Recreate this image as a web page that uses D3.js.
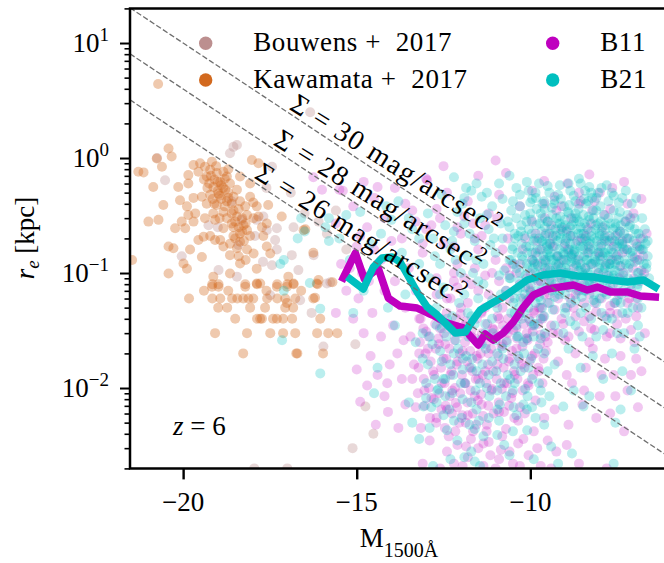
<!DOCTYPE html>
<html>
<head>
<meta charset="utf-8">
<script src="https://cdn.jsdelivr.net/npm/d3@7"></script>
<style>
  body { margin: 0; background: #fff; }
  text { font-family: "Liberation Serif", "Times New Roman", serif; fill: #000; white-space: pre; }
</style>
</head>
<body>
<svg id="chart" width="664" height="563"></svg>
<script>
// ---- axes ----
const xDomain = [-21.53, -6.0];
const yDomain = [0.002, 20];
const xTickValues = [-20, -15, -10];
const xTickLabels = ["\u221220", "\u221215", "\u221210"];
const yTickValues = [10, 1, 0.1, 0.01];
const yTickExponents = ["1", "0", "\u22121", "\u22122"];

// ---- constant surface-brightness guides: log10 r = (mu - M - zp) / 5 ----
const sbLevels = [26, 28, 30];
const sbZeroPoint = 45;
const sbLabelM = [-17.98, -17.43, -16.97];

// ---- Bouwens+2017 sizes [M1500, r_e kpc] ----
const bouwens = [
  [-16.34,2.5],[-18.45,1.3],[-18.65,1.1],[-18.55,1.25],[-20.75,1.0],[-20.52,0.64],[-17.44,0.84],[-20.04,0.14],
  [-19.27,0.26],[-18.31,0.29],[-18.41,0.175],[-17.88,0.29],[-17.69,0.31],[-17.59,0.236],[-17.93,0.21],
  [-17.30,0.245],[-16.82,0.25],[-16.87,0.143],[-16.68,0.106],[-17.30,0.16],[-17.35,0.194],[-16.63,0.058],
  [-15.86,0.081],[-15.96,0.023],[-18.98,0.106],[-17.49,0.064],[-18.45,0.093],[-16.24,0.143],[-15.86,0.22],
  [-17.44,0.117],[-15.04,0.024],[-14.75,0.0069],[-14.52,0.004],[-15.12,0.003],[-17.95,0.002],[-17.0,0.002],
  [-16.5,0.33],[-16.1,0.28],[-15.6,0.35],[-15.3,0.16],[-16.9,0.5],[-17.6,0.55],[-18.6,0.42],[-19.0,0.25],
  [-15.76,0.083],[-16.3,0.045],[-17.7,0.125]
];

// ---- Kawamata+2017 sizes [M1500, r_e kpc] ----
const kawamata = [
  [-20.72,4.4],[-20.42,1.21],[-20.33,1.03],[-20.76,0.99],[-20.61,0.84],[-21.29,0.76],[-21.14,0.75],[-20.86,0.56],
  [-20.09,0.43],[-20.57,0.39],[-19.89,0.38],[-19.85,0.32],[-19.65,0.33],[-19.70,0.28],[-20.04,0.28],[-20.23,0.245],
  [-19.94,0.245],[-21.0,0.28],[-20.71,0.29],[-20.42,0.17],[-20.28,0.164],[-19.80,0.16],[-19.99,0.121],[-19.89,0.109],
  [-20.42,0.099],[-19.46,0.138],[-19.56,0.194],[-19.41,0.207],[-19.08,0.194],[-18.93,0.194],[-19.17,0.076],
  [-18.98,0.076],[-19.13,0.093],[-18.65,0.099],[-18.36,0.121],[-18.21,0.076],[-17.88,0.081],[-17.88,0.109],
  [-17.78,0.081],[-17.49,0.148],[-17.30,0.076],[-17.01,0.076],[-16.82,0.081],[-16.97,0.093],[-17.01,0.055],
  [-16.15,0.081],[-16.53,0.236],[-17.16,0.31],[-17.55,0.39],[-17.98,0.41],[-18.02,0.96],[-17.83,0.90],
  [-19.17,0.93],[-21.47,0.13],
  [-19.70,0.87],[-19.51,0.90],[-19.37,0.84],[-19.22,0.79],[-19.56,0.76],[-19.32,0.69],[-19.03,0.74],[-18.84,0.76],
  [-18.74,0.69],[-18.93,0.62],[-19.13,0.56],[-18.65,0.60],[-18.79,0.53],[-18.45,0.53],[-18.55,0.46],[-18.98,0.49],
  [-19.22,0.48],[-19.46,0.46],[-19.70,0.45],[-19.32,0.40],[-19.03,0.39],[-18.74,0.42],[-18.36,0.42],[-18.21,0.38],
  [-18.55,0.35],[-18.84,0.34],[-19.13,0.33],[-19.37,0.30],[-19.08,0.29],[-18.74,0.30],[-18.45,0.31],[-18.16,0.32],
  [-17.97,0.30],[-18.26,0.26],[-18.55,0.25],[-18.84,0.245],[-18.16,0.236],[-18.36,0.22],[-18.55,0.21],[-18.07,0.21],
  [-18.65,0.18],[-18.36,0.187],[-18.84,0.17],[-18.45,0.164],[-18.16,0.16],[-17.97,0.148],[-18.65,0.143],[-19.22,0.21],
  [-19.85,0.60],[-20.14,0.56],[-19.85,0.71],[-18.36,0.69],[-18.07,0.60],[-18.07,0.46],[-17.88,0.38],[-17.83,0.31],
  [-17.73,0.25],[-17.59,0.27],[-17.69,0.21],[-17.59,0.17],
  [-19.1,0.65],[-18.9,0.58],[-19.0,0.52],[-18.7,0.5],[-19.25,0.6],[-18.8,0.66],[-19.15,0.44],[-18.6,0.4],
  [-18.9,0.44],[-18.5,0.28],[-18.3,0.3],[-18.4,0.25],[-18.2,0.27],
  [-19.2,0.7],[-19.0,0.62],[-18.85,0.55],[-19.3,0.55],[-18.95,0.47],[-18.7,0.45],[-19.1,0.4],[-18.8,0.38],
  [-18.6,0.33],[-18.4,0.36],[-18.3,0.23],[-18.5,0.2],[-18.25,0.19],[-18.6,0.27],[-19.4,0.65],[-19.05,0.85],
  [-18.7,0.8],[-18.95,0.3],[-18.2,0.13],[-18.4,0.14],
  [-19.83,0.06],[-19.16,0.06],[-18.93,0.06],[-18.59,0.06],[-18.44,0.06],[-18.27,0.06],[-17.98,0.06],[-17.58,0.06],
  [-17.29,0.06],[-17.06,0.06],[-16.77,0.06],[-16.25,0.06],[-18.12,0.06],
  [-18.99,0.05],[-18.73,0.05],[-18.07,0.05],[-17.64,0.05],[-17.06,0.05],[-16.83,0.05],
  [-18.5,0.04],[-17.87,0.04],[-17.78,0.04],[-17.73,0.04],[-17.41,0.04],[-17.12,0.04],[-16.86,0.04],[-16.05,0.04],[-17.3,0.04],
  [-19.08,0.03],[-18.16,0.03],[-17.49,0.03],[-17.12,0.03],[-16.77,0.03],[-16.14,0.03],[-15.82,0.03],
  [-18.27,0.02],[-16.74,0.02],[-16.71,0.02],[-15.97,0.02],
  [-19.16,0.08],[-18.98,0.08],[-18.21,0.08],[-17.87,0.08],[-17.29,0.08],[-17.0,0.08],[-16.82,0.08],[-16.13,0.08],
  [-18.7,0.07],[-17.6,0.07],[-16.6,0.07],[-19.4,0.07],
  [-16.48,0.24],[-16.25,0.15],[-16.1,0.087],[-15.7,0.083],[-16.2,0.061],[-15.56,0.03]
];

// ---- B11 simulated galaxies [M1500, r_e kpc] ----
const b11Points = [
  [-10.3,0.12],[-10.15,0.2],[-10.05,0.075],[-9.95,0.28],[-9.85,0.15],[-9.75,0.05],[-9.65,0.1],[-9.55,0.22],
  [-9.45,0.065],[-9.35,0.17],[-9.25,0.35],[-9.15,0.09],[-9.05,0.13],[-8.95,0.24],[-8.85,0.06],[-8.75,0.11],
  [-8.65,0.19],[-8.55,0.42],[-8.45,0.08],[-8.35,0.15],[-8.25,0.27],[-8.15,0.055],[-8.05,0.1],[-7.95,0.18],
  [-7.85,0.32],[-7.75,0.07],[-7.65,0.13],[-7.55,0.21],[-7.45,0.09],[-7.35,0.15],[-7.25,0.28],[-7.15,0.06],
  [-7.05,0.11],[-6.95,0.18],[-6.85,0.085],[-6.75,0.14],[-6.65,0.22],
  [-10.22,0.16],[-10.0,0.1],[-9.8,0.19],[-9.6,0.13],[-9.4,0.26],[-9.2,0.115],[-9.0,0.18],[-8.8,0.145],
  [-8.6,0.07],[-8.4,0.21],[-8.2,0.12],[-8.0,0.14],[-7.8,0.095],[-7.6,0.17],[-7.4,0.115],[-7.2,0.2],
  [-7.0,0.135],[-6.8,0.105],
  [-9.9,0.045],[-9.3,0.048],[-8.7,0.042],[-8.1,0.046],[-7.5,0.044],[-6.9,0.05],[-10.1,0.058],[-9.5,0.055],
  [-8.9,0.075],[-8.3,0.065],[-7.7,0.052],[-7.1,0.07],
  [-9.95,0.13],[-9.85,0.22],[-9.78,0.085],[-9.68,0.16],[-9.58,0.3],[-9.5,0.11],[-9.42,0.18],[-9.32,0.075],
  [-9.22,0.14],[-9.12,0.24],[-9.02,0.1],[-8.92,0.16],[-8.82,0.3],[-8.72,0.085],[-8.62,0.13],[-8.52,0.2],
  [-8.42,0.11],[-8.32,0.17],[-8.22,0.35],[-8.12,0.09],[-8.02,0.15],[-7.92,0.25],[-7.82,0.12],[-7.72,0.19],
  [-7.62,0.08],[-7.52,0.14],[-7.42,0.23],[-7.32,0.1],[-7.22,0.16],[-7.12,0.3],[-7.02,0.09],[-6.92,0.13],
  [-6.82,0.2],[-6.72,0.1],
  [-9.9,0.065],[-9.7,0.05],[-9.45,0.085],[-9.2,0.06],[-8.95,0.05],[-8.7,0.065],[-8.45,0.055],[-8.2,0.075],
  [-7.95,0.06],[-7.7,0.045],[-7.45,0.065],[-7.2,0.055],[-6.95,0.06],
  [-9.6,0.4],[-9.1,0.38],[-8.6,0.5],[-8.15,0.42],[-7.7,0.36],[-7.2,0.4],[-9.35,0.21],[-8.85,0.21],
  [-8.35,0.24],[-7.85,0.21],[-7.35,0.19],[-6.85,0.16],
  [-10.3,0.045],[-9.95,0.035],[-9.65,0.04],[-9.35,0.03],[-9.05,0.036],[-8.75,0.05],[-8.45,0.038],[-8.15,0.032],
  [-7.85,0.042],[-7.55,0.055],[-7.25,0.04],[-6.95,0.042],[-10.1,0.03],[-9.5,0.025],[-8.9,0.028],[-8.3,0.025],
  [-7.7,0.03],[-7.1,0.032],
  [-15.4,0.52],[-15.1,0.38],[-14.8,0.62],[-14.5,0.45],[-14.2,0.3],[-13.9,0.55],[-13.6,0.4],[-13.3,0.28],
  [-13.0,0.66],[-12.7,0.36],[-12.4,0.5],[-12.1,0.25],[-11.8,0.42],[-11.5,0.7],[-11.2,0.33],[-10.9,0.48],
  [-10.7,0.74],[-10.3,0.38],[-9.95,0.52],[-9.6,0.63],[-9.3,0.46],[-8.93,0.6],[-8.6,0.4],[-8.3,0.72],
  [-8.0,0.5],[-7.64,0.55],[-7.3,0.62],[-7.03,0.33],[-6.8,0.44],[-15.6,0.27],[-14.9,0.21],[-14.0,0.19],
  [-13.1,0.18],[-12.5,0.85],[-11.0,0.95],[-16.25,0.68],[-16.0,0.53],[-15.5,0.53],[-14.4,0.56],[-12.97,0.64],
  [-13.4,0.35],[-13.0,0.24],[-12.6,0.3],[-12.2,0.17],[-11.9,0.31],[-11.6,0.2],[-11.3,0.26],[-10.95,0.3],
  [-10.65,0.2],[-14.3,0.13],[-14.7,0.25],[-15.0,0.17],
  [-13.7,0.2],[-13.5,0.11],[-13.3,0.07],[-13.1,0.15],[-12.9,0.045],[-12.7,0.09],[-12.5,0.18],[-12.3,0.06],
  [-12.1,0.12],[-11.9,0.035],[-11.7,0.08],[-11.5,0.16],[-11.3,0.05],[-11.1,0.1],[-10.9,0.04],[-10.7,0.07],
  [-10.5,0.12],[-10.4,0.033],[-13.6,0.05],[-13.2,0.04],[-12.6,0.033],[-12.0,0.22],[-11.4,0.21],[-10.8,0.16],
  [-12.85,0.26],[-11.65,0.27],[-13.9,0.085],[-12.2,0.085],[-11.0,0.055],[-10.6,0.095],
  [-12.4,0.06],[-12.1,0.075],[-11.8,0.055],[-11.5,0.07],[-11.2,0.065],[-10.9,0.085],[-10.6,0.06],[-10.3,0.08],
  [-10.0,0.07],[-9.7,0.085],[-12.2,0.1],[-11.6,0.11],[-11.0,0.13],[-10.4,0.1],[-9.8,0.12],[-12.7,0.065],
  [-11.9,0.09],[-11.3,0.095],[-10.7,0.11],[-10.1,0.09],[-9.6,0.065],[-12.0,0.05],[-11.4,0.045],[-10.8,0.05],
  [-10.2,0.06],
  [-13.45,0.028],[-13.4,0.012],[-13.3,0.0068],[-13.2,0.02],[-13.15,0.0045],[-13.05,0.0095],[-13.0,0.031],[-13.35,0.016],
  [-12.95,0.022],[-12.85,0.0082],[-12.8,0.014],[-12.7,0.0055],[-12.65,0.027],[-12.55,0.011],[-12.5,0.018],[-12.9,0.0035],
  [-12.45,0.024],[-12.4,0.0065],[-12.3,0.013],[-12.25,0.0095],[-12.2,0.031],[-12.1,0.017],[-12.05,0.005],[-12.35,0.0038],
  [-12.15,0.0074],
  [-11.95,0.021],[-11.9,0.011],[-11.8,0.0058],[-11.75,0.015],[-11.7,0.028],[-11.6,0.0085],[-11.55,0.019],[-11.85,0.0031],
  [-11.65,0.0042],[-11.5,0.012],
  [-11.45,0.025],[-11.4,0.0072],[-11.3,0.014],[-11.25,0.0048],[-11.2,0.02],[-11.1,0.0098],[-11.05,0.032],[-11.35,0.0033],
  [-11.15,0.0026],
  [-10.95,0.016],[-10.9,0.0062],[-10.8,0.024],[-10.75,0.011],[-10.7,0.0044],[-10.6,0.018],[-10.55,0.0082],[-10.85,0.0029],
  [-10.65,0.03],
  [-10.45,0.013],[-10.4,0.022],[-10.3,0.0068],[-10.25,0.016],[-10.2,0.0036],[-10.1,0.027],[-10.05,0.0105],[-10.35,0.0052],
  [-9.95,0.019],[-9.85,0.0078],[-9.75,0.014],[-9.7,0.029],[-9.6,0.0055],[-9.55,0.021],[-9.9,0.0042],[-9.65,0.011],
  [-13.22,0.015],[-13.18,0.025],[-13.24,0.009],[-13.16,0.04],[-13.07,0.012],[-13.02,0.02],[-13.08,0.033],[-13.04,0.007],
  [-12.92,0.01],[-12.87,0.017],[-12.93,0.028],[-12.89,0.0055],[-12.86,0.045],[-12.77,0.013],[-12.72,0.022],[-12.78,0.008],
  [-12.74,0.036],[-12.71,0.005],[-12.62,0.009],[-12.57,0.015],[-12.63,0.024],[-12.59,0.04],[-12.56,0.0065],
  [-12.47,0.011],[-12.42,0.018],[-12.48,0.03],[-12.44,0.007],[-12.41,0.045],[-12.46,0.0045],
  [-12.32,0.0085],[-12.27,0.014],[-12.33,0.022],[-12.29,0.035],[-12.26,0.006],
  [-12.17,0.01],[-12.12,0.016],[-12.18,0.026],[-12.14,0.04],[-12.11,0.0068],[-12.16,0.0042],
  [-12.02,0.009],[-11.97,0.013],[-12.03,0.02],[-11.99,0.03],[-11.96,0.0058],[-12.01,0.044],
  [-11.87,0.011],[-11.82,0.017],[-11.88,0.025],[-11.84,0.038],[-11.81,0.0075],[-11.86,0.005],
  [-11.72,0.0095],[-11.67,0.014],[-11.73,0.021],[-11.69,0.032],[-11.66,0.006],[-11.71,0.0036],
  [-11.57,0.012],[-11.52,0.018],[-11.58,0.027],[-11.54,0.04],[-11.51,0.0078],[-11.56,0.0048],
  [-11.42,0.0088],[-11.37,0.013],[-11.43,0.02],[-11.39,0.03],[-11.36,0.0057],[-11.41,0.046],
  [-11.27,0.011],[-11.22,0.016],[-11.28,0.024],[-11.24,0.036],[-11.21,0.007],[-11.26,0.0042],
  [-11.12,0.0095],[-11.07,0.014],[-11.13,0.022],[-11.09,0.033],[-11.06,0.006],
  [-10.97,0.012],[-10.92,0.019],[-10.98,0.028],[-10.94,0.042],[-10.91,0.0075],
  [-10.82,0.0098],[-10.77,0.015],[-10.83,0.023],[-10.79,0.035],[-10.76,0.0062],[-10.81,0.0038],
  [-10.67,0.011],[-10.62,0.017],[-10.68,0.026],[-10.64,0.04],[-10.61,0.007],
  [-10.52,0.009],[-10.47,0.014],[-10.53,0.021],[-10.49,0.032],[-10.46,0.0055],
  [-10.37,0.012],[-10.32,0.018],[-10.38,0.027],[-10.34,0.042],
  [-10.22,0.0095],[-10.17,0.015],[-10.23,0.023],[-10.19,0.036],[-10.16,0.006],
  [-10.07,0.011],[-10.02,0.017],[-10.08,0.026],[-10.04,0.04],
  [-9.92,0.013],[-9.87,0.02],[-9.93,0.031],[-9.89,0.047],[-9.77,0.015],[-9.72,0.024],[-9.78,0.036],
  [-9.62,0.018],[-9.57,0.028],[-9.63,0.042],
  [-12.4,0.0028],[-12.1,0.0032],[-11.8,0.0025],[-11.5,0.003],[-11.2,0.0034],[-10.9,0.0024],[-10.6,0.0028],[-10.35,0.0033],
  [-10.05,0.0026],[-9.8,0.003],[-9.5,0.0035],[-9.25,0.0028],[-8.95,0.0032],[-12.2,0.0022],[-11.35,0.0021],[-10.5,0.0022],
  [-9.7,0.0021],
  [-12.6,0.002],[-11.95,0.0021],[-11.0,0.002],[-10.3,0.0021],[-9.4,0.002],[-8.6,0.0022],[-7.8,0.002],[-13.1,0.0022],
  [-15.1,0.04],[-14.95,0.06],[-14.8,0.03],[-14.6,0.019],[-14.55,0.045],[-14.4,0.013],[-14.3,0.028],[-14.12,0.011],
  [-14.1,0.0062],[-14.9,0.0076],[-13.83,0.02],[-14.2,0.0085],[-14.05,0.016],[-13.95,0.035],[-13.7,0.012],[-13.6,0.0072],
  [-14.7,0.0105],[-15.3,0.07],[-15.0,0.0145],[-13.8,0.0045],[-14.45,0.0048],[-13.65,0.026],[-15.2,0.11],[-14.65,0.085],
  [-15.45,0.12],[-14.85,0.1],[-14.5,0.16],[-14.2,0.07],[-15.6,0.045],
  [-9.4,0.035],[-9.2,0.017],[-9.0,0.026],[-8.8,0.011],[-8.6,0.031],[-8.4,0.015],[-8.2,0.022],[-8.0,0.0085],
  [-7.8,0.028],[-7.6,0.013],[-7.4,0.019],[-7.2,0.0095],[-7.0,0.025],[-6.8,0.014],[-9.3,0.0065],[-8.9,0.0048],
  [-8.5,0.0072],[-8.1,0.0055],[-7.7,0.006],[-7.3,0.0042],[-6.9,0.0068],[-9.1,0.04],[-8.3,0.042],[-7.5,0.036],
  [-6.7,0.03],[-9.2,0.03],[-8.7,0.02],[-8.25,0.033],[-7.85,0.018],[-7.4,0.027],[-6.95,0.018],[-8.95,0.013],
  [-8.45,0.0095],[-7.95,0.013],[-7.55,0.0085],[-7.1,0.013]
];

// ---- B21 simulated galaxies [M1500, r_e kpc] ----
const b21Points = [
  [-10.35,0.21],[-10.22,0.13],[-10.31,0.085],[-10.15,0.32],[-10.28,0.06],[-10.12,0.17],[-10.4,0.11],[-10.18,0.045],[-10.26,0.26],
  [-9.95,0.15],[-10.05,0.24],[-9.88,0.09],[-9.82,0.36],[-9.99,0.068],[-9.91,0.19],[-10.08,0.11],[-9.85,0.055],[-9.97,0.29],[-9.9,0.125],
  [-9.75,0.2],[-9.62,0.14],[-9.7,0.33],[-9.55,0.095],[-9.68,0.07],[-9.58,0.25],[-9.78,0.115],[-9.52,0.17],[-9.66,0.05],[-9.6,0.42],[-9.73,0.27],
  [-9.45,0.22],[-9.33,0.13],[-9.4,0.085],[-9.25,0.3],[-9.48,0.16],[-9.3,0.062],[-9.38,0.37],[-9.22,0.19],[-9.42,0.105],[-9.28,0.24],[-9.35,0.048],
  [-9.15,0.27],[-9.05,0.15],[-8.95,0.2],[-9.1,0.09],[-8.92,0.34],[-9.18,0.12],[-9.0,0.065],[-8.98,0.11],[-9.12,0.44],[-8.94,0.078],[-9.07,0.23],
  [-8.85,0.18],[-8.75,0.28],[-8.68,0.12],[-8.8,0.095],[-8.62,0.22],[-8.88,0.39],[-8.72,0.155],[-8.65,0.07],[-8.83,0.055],[-8.7,0.33],[-8.78,0.21],
  [-8.55,0.25],[-8.45,0.14],[-8.38,0.19],[-8.5,0.1],[-8.32,0.31],[-8.58,0.075],[-8.42,0.52],[-8.35,0.085],[-8.48,0.17],[-8.4,0.4],[-8.52,0.062],
  [-8.25,0.21],[-8.15,0.13],[-8.05,0.27],[-8.2,0.09],[-8.1,0.35],[-8.28,0.16],[-8.02,0.11],[-8.18,0.058],[-8.08,0.19],[-8.22,0.45],
  [-7.95,0.23],[-7.85,0.15],[-7.75,0.3],[-7.9,0.1],[-7.8,0.19],[-7.72,0.12],[-7.98,0.38],[-7.88,0.068],[-7.78,0.085],[-7.92,0.14],
  [-7.65,0.2],[-7.55,0.27],[-7.45,0.13],[-7.6,0.095],[-7.5,0.17],[-7.42,0.34],[-7.68,0.11],[-7.58,0.055],[-7.48,0.22],
  [-7.35,0.18],[-7.25,0.12],[-7.15,0.25],[-7.3,0.085],[-7.2,0.32],[-7.12,0.15],[-7.38,0.065],[-7.22,0.2],
  [-7.05,0.14],[-6.95,0.22],[-6.88,0.1],[-7.0,0.3],[-6.85,0.17],[-6.92,0.075],[-7.08,0.4],
  [-6.75,0.16],[-6.65,0.12],[-6.7,0.24],[-6.58,0.09],[-6.62,0.19],[-6.78,0.3],
  [-9.44,0.14],[-9.36,0.2],[-9.26,0.11],[-9.02,0.17],[-8.96,0.13],[-8.86,0.25],[-8.74,0.16],[-8.66,0.3],
  [-8.6,0.105],[-8.46,0.22],[-8.36,0.13],[-8.3,0.18],[-8.12,0.24],[-8.04,0.15],[-7.96,0.17],[-7.84,0.26],
  [-7.76,0.14],[-7.7,0.09],[-7.62,0.24],[-7.52,0.13],[-9.56,0.13],[-9.64,0.19],[-9.14,0.22],[-8.9,0.15],
  [-8.56,0.19],[-8.24,0.12],[-7.86,0.2],[-7.44,0.19],[-9.2,0.14],[-8.44,0.27],[-8.0,0.21],[-7.66,0.16],
  [-9.8,0.16],[-9.5,0.28],[-8.8,0.135],[-8.18,0.3],[-7.4,0.26],[-7.3,0.16],[-9.0,0.26],[-8.34,0.1],
  [-10.57,0.09],[-10.52,0.16],[-10.6,0.25],[-10.49,0.055],[-10.55,0.13],
  [-10.44,0.2],[-10.38,0.07],[-10.46,0.12],[-10.4,0.3],[-10.36,0.15],
  [-10.3,0.1],[-10.25,0.18],[-10.32,0.05],[-10.27,0.23],[-10.24,0.14],[-10.3,0.38],
  [-10.15,0.065],[-10.1,0.12],[-10.17,0.21],[-10.11,0.28],[-10.14,0.095],[-10.09,0.15],
  [-9.99,0.08],[-9.94,0.13],[-10.02,0.17],[-9.96,0.22],[-10.0,0.33],[-9.93,0.11],[-10.03,0.06],
  [-9.86,0.1],[-9.81,0.14],[-9.88,0.2],[-9.83,0.26],[-9.8,0.07],[-9.87,0.12],[-9.84,0.45],
  [-9.71,0.085],[-9.66,0.12],[-9.73,0.16],[-9.68,0.23],[-9.65,0.3],[-9.72,0.1],[-9.67,0.19],[-9.7,0.058],
  [-9.57,0.11],[-9.52,0.15],[-9.58,0.21],[-9.54,0.075],[-9.5,0.28],[-9.56,0.125],[-9.53,0.18],[-9.59,0.36],
  [-9.43,0.09],[-9.38,0.13],[-9.44,0.18],[-9.4,0.24],[-9.37,0.32],[-9.42,0.15],[-9.39,0.07],[-9.45,0.11],
  [-9.29,0.1],[-9.24,0.14],[-9.3,0.17],[-9.26,0.21],[-9.23,0.27],[-9.28,0.08],[-9.25,0.12],[-9.31,0.4],
  [-9.15,0.095],[-9.1,0.13],[-9.16,0.16],[-9.12,0.2],[-9.09,0.25],[-9.14,0.31],[-9.11,0.11],[-9.17,0.065],
  [-9.01,0.085],[-8.96,0.12],[-9.02,0.145],[-8.98,0.19],[-8.95,0.23],[-9.0,0.29],[-8.97,0.1],[-9.03,0.38],
  [-8.87,0.1],[-8.82,0.125],[-8.88,0.16],[-8.84,0.21],[-8.81,0.26],[-8.86,0.075],[-8.83,0.14],[-8.89,0.33],
  [-8.73,0.09],[-8.68,0.115],[-8.74,0.15],[-8.7,0.18],[-8.67,0.24],[-8.72,0.3],[-8.69,0.13],[-8.75,0.47],
  [-8.59,0.08],[-8.54,0.11],[-8.6,0.14],[-8.56,0.17],[-8.53,0.22],[-8.58,0.28],[-8.55,0.12],[-8.61,0.36],
  [-8.45,0.095],[-8.4,0.13],[-8.46,0.16],[-8.42,0.2],[-8.39,0.25],[-8.44,0.07],[-8.41,0.11],[-8.47,0.32],
  [-8.31,0.085],[-8.26,0.12],[-8.32,0.15],[-8.28,0.19],[-8.25,0.23],[-8.3,0.29],[-8.27,0.1],[-8.33,0.42],
  [-8.17,0.09],[-8.12,0.125],[-8.18,0.16],[-8.14,0.2],[-8.11,0.26],[-8.16,0.065],[-8.13,0.14],[-8.19,0.35],
  [-8.03,0.1],[-7.98,0.13],[-8.04,0.17],[-8.0,0.22],[-7.97,0.28],[-8.02,0.08],[-7.99,0.12],
  [-7.89,0.085],[-7.84,0.115],[-7.9,0.15],[-7.86,0.19],[-7.83,0.24],[-7.88,0.32],[-7.85,0.11],
  [-7.75,0.095],[-7.7,0.13],[-7.76,0.16],[-7.72,0.21],[-7.69,0.27],[-7.74,0.07],[-7.71,0.12],
  [-7.61,0.09],[-7.56,0.12],[-7.62,0.15],[-7.58,0.19],[-7.55,0.25],[-7.6,0.35],[-7.57,0.105],
  [-7.47,0.08],[-7.42,0.115],[-7.48,0.145],[-7.44,0.18],[-7.41,0.23],[-7.46,0.3],[-7.43,0.1],
  [-7.33,0.095],[-7.28,0.13],[-7.34,0.17],[-7.3,0.22],[-7.27,0.28],[-7.32,0.07],
  [-7.19,0.09],[-7.14,0.12],[-7.2,0.16],[-7.16,0.2],[-7.13,0.26],[-7.18,0.11],
  [-7.05,0.085],[-7.0,0.125],[-7.06,0.155],[-7.02,0.19],[-6.99,0.24],
  [-6.91,0.1],[-6.86,0.13],[-6.92,0.17],[-6.88,0.22],[-6.9,0.08],
  [-6.78,0.09],[-6.73,0.12],[-6.79,0.16],[-6.75,0.2],[-6.66,0.11],[-6.62,0.14],[-6.68,0.18],
  [-10.45,0.06],[-10.25,0.04],[-10.05,0.05],[-9.9,0.035],[-9.75,0.062],[-9.6,0.042],[-9.45,0.055],[-9.3,0.035],
  [-9.15,0.07],[-9.0,0.05],[-8.85,0.038],[-8.7,0.058],[-8.55,0.045],[-8.4,0.07],[-8.25,0.04],[-8.1,0.055],
  [-7.95,0.045],[-7.8,0.065],[-7.65,0.04],[-7.5,0.058],[-7.35,0.045],[-7.2,0.068],[-7.05,0.05],[-6.9,0.06],
  [-10.35,0.028],[-9.7,0.027],[-9.05,0.03],[-8.5,0.028],[-7.9,0.032],[-7.3,0.03],[-6.85,0.028],[-10.15,0.075],
  [-9.5,0.075],[-8.9,0.085],[-8.3,0.08],[-7.7,0.078],[-7.1,0.08],
  [-11.55,0.6],[-11.7,0.52],[-11.4,0.46],[-10.6,0.7],[-10.4,0.55],[-10.1,0.62],[-9.85,0.5],[-9.5,0.57],
  [-9.2,0.48],[-8.9,0.6],[-8.6,0.66],[-8.3,0.56],[-8.05,0.5],[-7.8,0.58],[-7.6,0.47],[-7.25,0.52],
  [-6.95,0.45],[-10.8,0.44],[-10.0,0.41],[-11.1,0.38],[-8.45,0.44],[-9.65,0.4],[-7.45,0.41],[-12.2,0.68],
  [-10.3,0.48],[-10.05,0.52],[-9.75,0.6],[-9.45,0.5],[-9.15,0.58],[-8.85,0.52],[-8.55,0.6],[-8.25,0.5],
  [-7.95,0.55],[-7.65,0.5],[-7.35,0.45],[-9.95,0.44],[-9.3,0.43],[-8.7,0.42],[-8.1,0.45],[-7.75,0.42],
  [-10.5,0.42],[-11.25,0.5],[-10.9,0.6],[-11.9,0.45],
  [-12.8,0.2],[-12.6,0.12],[-12.5,0.075],[-12.3,0.16],[-12.2,0.23],[-12.0,0.1],[-11.9,0.065],[-11.8,0.14],
  [-11.6,0.19],[-11.5,0.085],[-11.35,0.12],[-11.2,0.24],[-11.1,0.058],[-11.0,0.15],[-10.9,0.095],[-10.8,0.2],
  [-10.7,0.07],[-10.6,0.13],[-10.5,0.17],[-10.45,0.045],[-12.7,0.05],[-12.4,0.04],[-11.7,0.042],[-11.3,0.036],
  [-10.95,0.05],[-10.65,0.28],[-11.45,0.3],[-12.1,0.34],[-12.9,0.09],[-11.9,0.27],[-10.75,0.105],[-11.15,0.175],
  [-12.15,0.13],[-11.65,0.1],
  [-13.5,0.3],[-13.2,0.2],[-12.95,0.33],[-12.75,0.14],[-12.45,0.26],[-12.25,0.19],[-11.95,0.4],[-11.75,0.22],
  [-11.55,0.13],[-11.25,0.32],[-11.05,0.2],[-10.85,0.27],[-10.55,0.35],[-10.45,0.22],[-13.8,0.42],[-14.15,0.38],
  [-12.55,0.48],[-11.85,0.55],
  [-13.3,0.025],[-13.1,0.018],[-12.9,0.028],[-12.75,0.012],[-12.6,0.021],[-12.45,0.0085],[-12.3,0.016],[-12.15,0.026],
  [-12.0,0.011],[-11.85,0.019],[-11.7,0.0075],[-11.55,0.014],[-11.4,0.024],[-11.25,0.01],[-11.1,0.017],[-10.95,0.0065],
  [-10.8,0.022],[-10.65,0.013],[-10.5,0.0095],[-10.35,0.019],[-10.2,0.0072],[-10.05,0.015],[-9.9,0.028],[-9.75,0.011],
  [-9.6,0.02],[-9.45,0.0085],[-9.3,0.016],[-13.4,0.005],[-13.08,0.0069],[-12.85,0.0068],[-12.4,0.0043],[-12.2,0.0052],
  [-11.9,0.0025],[-11.7,0.0028],[-10.95,0.0039],[-10.09,0.0043],[-9.6,0.0048],[-9.05,0.0069],[-8.47,0.0069],[-8.3,0.0085],
  [-7.55,0.005],[-7.4,0.0065],[-7.6,0.0022],[-9.2,0.0022],[-11.45,0.0021],[-12.8,0.0021],[-12.55,0.033],[-12.05,0.031],
  [-11.3,0.03],[-10.7,0.032],[-10.1,0.027],[-11.95,0.0145],[-11.2,0.0055],[-10.4,0.0058],[-12.65,0.0098],[-11.6,0.0044],
  [-13.2,0.0036],[-10.75,0.0032],[-9.85,0.0055],
  [-12.5,0.012],[-12.2,0.02],[-11.95,0.008],[-11.7,0.015],[-11.45,0.026],[-11.2,0.013],[-10.95,0.02],[-10.7,0.0085],
  [-10.45,0.016],[-10.2,0.025],[-9.95,0.012],[-9.7,0.04],[-12.35,0.035],[-11.8,0.045],[-11.1,0.04],[-10.55,0.045],
  [-10.0,0.038],[-12.85,0.045],[-12.05,0.055],[-11.5,0.06],[-10.85,0.065],[-10.3,0.075],[-12.6,0.065],[-11.35,0.08],
  [-10.6,0.09],[-12.25,0.009],[-11.55,0.0065],[-10.85,0.011],[-10.15,0.0098],[-9.5,0.014],[-13.0,0.011],[-12.7,0.0075],
  [-13.1,0.03],[-12.95,0.016],[-12.82,0.024],[-12.68,0.0095],[-12.55,0.017],[-12.42,0.028],[-12.33,0.0065],[-12.22,0.013],
  [-12.08,0.022],[-11.98,0.0055],[-11.88,0.011],[-11.78,0.028],[-11.68,0.018],[-11.58,0.0095],[-11.48,0.0052],[-11.38,0.016],
  [-11.28,0.022],[-11.18,0.0085],[-11.08,0.03],[-10.98,0.014],[-10.88,0.0072],[-10.78,0.018],[-10.68,0.025],[-10.58,0.012],
  [-10.48,0.0068],[-10.38,0.028],[-10.28,0.014],[-10.18,0.02],[-10.08,0.0085],[-9.98,0.018],[-9.88,0.036],[-9.78,0.022],
  [-9.68,0.0075],[-9.58,0.03],[-12.9,0.0045],[-12.5,0.0058],[-12.1,0.0035],[-11.75,0.0048],[-11.35,0.0038],[-10.9,0.0052],
  [-10.5,0.0042],[-10.1,0.0065],[-9.7,0.0095],[-12.7,0.035],[-12.25,0.042],[-11.6,0.036],[-11.0,0.026],[-10.4,0.035],
  [-13.0,0.0082],[-12.45,0.012],[-11.95,0.018],[-11.45,0.011],[-10.95,0.0095],[-10.45,0.011],[-9.95,0.0068],
  [-12.3,0.0024],[-11.6,0.0023],[-10.6,0.0026],[-9.9,0.0024],[-9.4,0.0031],[-8.8,0.0027],
  [-17.1,0.07],[-17.15,0.026],[-16.05,0.049],[-16.05,0.0134],[-14.4,0.015],[-15.5,0.2],[-15.8,0.3],[-15.2,0.13],
  [-14.9,0.34],[-14.6,0.18],[-14.3,0.22],[-14.0,0.29],[-13.7,0.15],[-13.4,0.24],[-13.2,0.12],[-14.8,0.07],
  [-14.1,0.05],[-13.6,0.065],[-13.9,0.035],[-15.1,0.045],[-14.5,0.009],[-13.5,0.0075],[-16.6,0.3],[-15.8,0.19],
  [-17.1,0.13],[-16.35,0.082],[-16.7,0.2],[-16.5,0.23],[-15.9,0.25],[-15.3,0.32],[-17.2,0.12],
  [-9.0,0.045],[-8.7,0.035],[-8.4,0.05],[-8.1,0.028],[-7.8,0.04],[-7.5,0.03],[-7.2,0.045],[-6.9,0.035],
  [-8.9,0.022],[-8.55,0.015],[-8.2,0.019],[-7.9,0.012],[-7.65,0.02],[-7.35,0.014],[-7.0,0.022],[-6.8,0.05],
  [-8.75,0.0095],[-7.1,0.0095],[-8.0,0.06],[-7.4,0.055]
];

// ---- running medians ----
const b11MedianM = [-15.39,-15.04,-14.78,-14.38,-14.09,-13.75,-13.26,-12.82,-12.39,-11.93,-11.73,-11.50,-11.30,-11.07,
  -10.78,-10.49,-10.20,-9.91,-9.51,-9.14,-8.76,-8.36,-8.07,-7.69,-7.20,-6.83,-6.40];
const b11MedianR = [0.0905,0.149,0.0887,0.110,0.0606,0.0516,0.0496,0.0431,0.0367,0.0333,0.0283,0.0237,0.0295,0.0261,
  0.0301,0.0375,0.0506,0.0644,0.0726,0.0755,0.0787,0.0712,0.0755,0.0684,0.0684,0.0631,0.0618];
const b21MedianM = [-15.19,-14.81,-14.52,-14.27,-13.98,-13.75,-13.52,-13.26,-12.97,-12.68,-12.39,-12.16,-11.87,-11.67,
  -11.44,-11.10,-10.78,-10.37,-10.09,-9.63,-9.14,-8.65,-8.18,-7.69,-7.20,-6.74,-6.40];
const b21MedianR = [0.0887,0.0726,0.1127,0.135,0.138,0.1247,0.0942,0.0684,0.0506,0.0431,0.0353,0.0301,0.0307,0.0383,
  0.0477,0.0549,0.0618,0.0755,0.0869,0.0961,0.100,0.0942,0.0923,0.0869,0.0835,0.0869,0.0755];

// ---- legend ----
const legendLabels = ["Bouwens +  2017", "Kawamata +  2017", "B11", "B21"];
const colors = { bouwens: "#bc8f8f", kawamata: "#d2691e", b11: "#bf00bf", b21: "#00bfbf" };

// ================= drawing =================
const svg = d3.select("#chart");
const plot = { left: 130, top: 8.4, right: 669.2, bottom: 468.4 };
const x = d3.scaleLinear().domain(xDomain).range([plot.left, plot.right]);
const y = d3.scaleLog().domain(yDomain).range([plot.bottom, plot.top]);

svg.append("defs").append("clipPath").attr("id", "plotArea")
  .append("rect").attr("x", plot.left).attr("y", plot.top)
  .attr("width", plot.right - plot.left).attr("height", plot.bottom - plot.top);

const gData = svg.append("g").attr("clip-path", "url(#plotArea)");

function scatter(data, color, alpha) {
  gData.append("g").selectAll("circle").data(data).join("circle")
    .attr("cx", d => x(d[0])).attr("cy", d => y(d[1])).attr("r", 5)
    .attr("fill", color).attr("fill-opacity", alpha);
}
scatter(bouwens, colors.bouwens, 0.35);
scatter(kawamata, colors.kawamata, 0.36);
scatter(b11Points, colors.b11, 0.22);
scatter(b21Points, colors.b21, 0.27);

const curve = d3.line().x(d => x(d[0])).y(d => y(d[1]));
function median(ms, rs, color) {
  gData.append("path").datum(ms.map((m, i) => [m, rs[i]]))
    .attr("d", curve).attr("fill", "none").attr("stroke", color)
    .attr("stroke-width", 7.5).attr("stroke-linejoin", "round").attr("stroke-linecap", "square");
}
median(b11MedianM, b11MedianR, colors.b11);
median(b21MedianM, b21MedianR, colors.b21);

// surface-brightness guides
const sbRadius = (mu, m) => Math.pow(10, (mu - m - sbZeroPoint) / 5);
sbLevels.forEach(mu => {
  const pts = d3.range(0, 41).map(i => {
    const m = xDomain[0] + (xDomain[1] - xDomain[0]) * i / 40;
    return [m, sbRadius(mu, m)];
  });
  gData.append("path").datum(pts).attr("d", curve)
    .attr("fill", "none").attr("stroke", "#6f6f6f").attr("stroke-width", 1.3)
    .attr("stroke-dasharray", "5.5,2.4");
});

sbLevels.forEach((mu, i) => {
  const m = sbLabelM[i];
  const px = x(m), py = y(sbRadius(mu, m)) - 4;
  const t = svg.append("text").attr("transform", `translate(${px},${py}) rotate(32)`)
    .attr("font-size", 28).attr("letter-spacing", 1.4);
  t.append("tspan").text(`\u03A3 = ${mu} mag/arcsec`);
  t.append("tspan").attr("font-size", 20).attr("dy", -11).text("2");
});

// axes
const axisG = svg.append("g");
const yAxis = axisG.append("g").attr("transform", `translate(${plot.left},0)`)
  .call(d3.axisLeft(y).tickValues(yTickValues).tickSize(10).tickFormat(() => ""));
const minorTicks = [];
for (let e = -3; e <= 1; e++) for (let k = 2; k <= 9; k++) {
  const v = k * Math.pow(10, e);
  if (v >= yDomain[0] && v <= yDomain[1]) minorTicks.push(v);
}
const yMinor = axisG.append("g").attr("transform", `translate(${plot.left},0)`)
  .call(d3.axisLeft(y).tickValues(minorTicks).tickSize(5.5).tickFormat(() => ""));
const xAxis = axisG.append("g").attr("transform", `translate(0,${plot.bottom})`)
  .call(d3.axisBottom(x).tickValues(xTickValues).tickSize(11).tickFormat(() => ""));
[yAxis, yMinor, xAxis].forEach(g => { g.select(".domain").remove(); });
yAxis.selectAll(".tick line").attr("stroke", "#000").attr("stroke-width", 2);
yMinor.selectAll(".tick line").attr("stroke", "#000").attr("stroke-width", 1.6);
xAxis.selectAll(".tick line").attr("stroke", "#000").attr("stroke-width", 2.4);

// spines
axisG.append("path")
  .attr("d", `M${plot.right},${plot.top}H${plot.left}V${plot.bottom}H${plot.right}`)
  .attr("fill", "none").attr("stroke", "#000").attr("stroke-width", 2.5);

// tick labels
yTickValues.forEach((v, i) => {
  const t = svg.append("text").attr("x", 109).attr("y", y(v) + 9)
    .attr("text-anchor", "end").attr("font-size", 27);
  t.append("tspan").text("10");
  t.append("tspan").attr("font-size", 19).attr("dy", -11).text(yTickExponents[i]);
});
xTickValues.forEach((v, i) => {
  svg.append("text").attr("x", x(v)).attr("y", 511).attr("text-anchor", "middle")
    .attr("font-size", 27).text(xTickLabels[i]);
});

// axis titles
const xl = svg.append("text").attr("x", 399).attr("y", 547).attr("text-anchor", "middle").attr("font-size", 27);
xl.append("tspan").text("M");
xl.append("tspan").attr("font-size", 20).attr("dy", 10).text("1500\u00C5");

const yl = svg.append("text").attr("transform", "translate(34,238) rotate(-90)")
  .attr("text-anchor", "middle").attr("font-size", 27);
yl.append("tspan").attr("font-style", "italic").text("r");
yl.append("tspan").attr("font-style", "italic").attr("font-size", 19).attr("dy", 5).text("e");
yl.append("tspan").attr("dy", -5).text(" [kpc]");

const zt = svg.append("text").attr("x", 173).attr("y", 435).attr("font-size", 27);
zt.append("tspan").attr("font-style", "italic").text("z");
zt.append("tspan").text(" = 6");

// legend
const legendItems = [
  { label: legendLabels[0], color: colors.bouwens, mx: 205.7, my: 43.3 },
  { label: legendLabels[1], color: colors.kawamata, mx: 205.7, my: 80 },
  { label: legendLabels[2], color: colors.b11, mx: 552.7, my: 43.3 },
  { label: legendLabels[3], color: colors.b21, mx: 552.7, my: 80 }
];
const lg = svg.append("g");
legendItems.forEach(d => {
  lg.append("circle").attr("cx", d.mx).attr("cy", d.my).attr("r", 6.7).attr("fill", d.color);
  lg.append("text").attr("x", d.mx + 47.5).attr("y", d.my + 7.5).attr("font-size", 27)
    .attr("letter-spacing", 0.6).text(d.label);
});
</script>
</body>
</html>
